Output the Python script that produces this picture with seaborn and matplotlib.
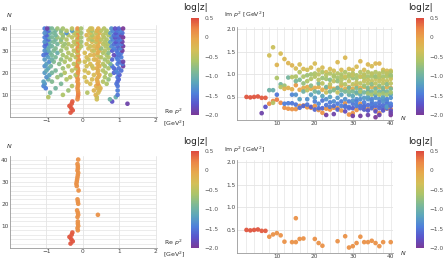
import numpy as np
import pandas as pd
import seaborn as sns
import matplotlib
matplotlib.use('Agg')
import matplotlib.pyplot as plt
import matplotlib.ticker as ticker
from matplotlib.colors import LinearSegmentedColormap, Normalize
from matplotlib.cm import ScalarMappable

# all roots, one inner list per N = 2..40
top_ns = list(range(2, 41))
top_re = [
    [-0.34], [-0.28], [-0.32], [-0.37],
    [-0.31, 1.22],
    [-0.29, 0.80],
    [-0.15, 0.38, 0.74],
    [-0.14, -0.95, 0.38, 0.90],
    [-0.13, 0.35, -0.55, 0.95],
    [-0.13, 0.42, -0.90, 0.12],
    [-0.14, 0.45, -0.40, 0.30, 0.95],
    [-0.15, 0.40, -0.75, 0.48, -1.02],
    [-0.14, 0.44, -0.30, 0.36, -1.08, 0.95],
    [-0.13, 0.41, 0.20, -1.05, -0.60, 0.92, 0.65],
    [-0.15, 0.40, 0.10, -0.85, 0.55, -1.08, 0.95],
    [-0.14, 0.38, 0.25, -0.45, -0.95, 0.70, 0.98],
    [-0.16, 0.42, 0.05, -0.70, -1.00, 0.60, 0.95, -0.35],
    [-0.15, 0.45, 0.30, -0.20, -0.92, 0.75, 1.00, -0.60],
    [-0.14, 0.40, 0.15, -0.50, -0.85, 0.62, 0.95, -1.05, 0.85],
    [-0.13, 0.42, 0.05, -0.30, -0.75, 0.55, 0.90, -1.00, 1.05],
    [-0.14, 0.38, 0.28, -0.55, -0.95, 0.70, 0.98, -0.20, 0.85],
    [-0.16, 0.45, 0.10, -0.40, -0.88, 0.60, 1.10, -1.05, 0.80, 0.25],
    [-0.15, 0.40, 0.20, -0.65, -1.00, 0.55, 0.95, -0.25, 1.08, 0.75],
    [-0.14, 0.43, 0.05, -0.50, -0.92, 0.68, 1.00, -0.10, 1.10, -0.80],
    [-0.12, 0.35, 0.30, -0.35, -0.85, 0.60, 0.95, -1.05, 0.80, -0.60, 0.15],
    [-0.15, 0.45, 0.10, -0.45, -0.95, 0.70, 0.92, -0.20, 1.05, -0.75, 0.50],
    [-0.13, 0.30, 0.20, -0.55, -1.00, 0.65, 0.98, -0.30, 0.85, -0.85, 0.40, -1.08],
    [-0.15, 0.40, 0.05, -0.40, -0.90, 0.55, 0.95, -0.15, 1.05, -0.70, 0.70, -1.00],
    [-0.14, 0.45, 0.25, -0.60, -0.95, 0.60, 0.92, -0.25, 1.08, -0.80, 0.30, -1.05, 0.80],
    [-0.15, 0.38, 0.15, -0.45, -1.00, 0.70, 0.98, -0.10, 1.02, -0.75, 0.50, -0.95, 0.85],
    [-0.13, 0.42, 0.30, -0.55, -0.90, 0.62, 0.95, -0.30, 1.10, -0.85, 0.20, -1.05, 0.78, -0.05],
    [-0.15, 0.40, 0.10, -0.40, -0.98, 0.68, 0.92, -0.20, 1.05, -0.70, 0.55, -1.02, 0.85, -0.50],
    [-0.14, 0.45, 0.25, -0.60, -0.90, 0.60, 0.98, -0.25, 1.08, -0.80, 0.35, -1.05, 0.75, -0.05, 0.90],
    [-0.15, 0.38, 0.15, -0.45, -1.00, 0.65, 0.95, -0.15, 1.02, -0.75, 0.50, -0.95, 0.82, -0.60, 0.25],
    [-0.14, 0.42, 0.30, -0.55, -0.92, 0.58, 0.98, -0.30, 1.10, -0.85, 0.20, -1.05, 0.78, -0.05, 0.88, -0.70],
    [-0.15, 0.40, 0.10, -0.40, -0.98, 0.70, 0.92, -0.20, 1.05, -0.75, 0.55, -1.00, 0.85, -0.55, 0.25],
    [-0.14, 0.45, 0.20, -0.60, -0.90, 0.62, 0.98, -0.25, 1.08, -0.80, 0.35, -1.05, 0.75, -0.05, 0.90, -0.45],
    [-0.14, 0.38, 0.15, -0.45, -1.00, 0.65, 0.95, -0.15, 1.02, -0.75, 0.50, -0.95, 0.82, -0.60, 0.25, -0.30],
    [-0.15, 0.42, 0.25, -0.55, -0.92, 0.58, 0.98, -0.30, 1.10, -0.85, 0.20, -1.05, 0.78, -0.05, 0.88, -0.70, -0.98],
]
top_im = [
    [0.50], [0.49], [0.50], [0.51],
    [0.48, 0.14],
    [0.48, 0.28],
    [0.35, 1.42, 0.65],
    [0.41, 0.37, 1.60, 0.65],
    [0.44, 1.21, 0.92, 0.55],
    [0.37, 1.46, 0.78, 0.72],
    [0.26, 1.34, 0.75, 0.68, 0.35],
    [0.24, 1.25, 0.93, 0.70, 0.36],
    [0.23, 1.20, 0.94, 0.67, 0.55, 0.36],
    [0.23, 0.76, 1.13, 0.55, 0.85, 0.33, 0.95],
    [0.30, 0.66, 1.22, 0.88, 1.05, 0.45, 0.26],
    [0.31, 0.70, 1.12, 0.95, 0.62, 0.80, 0.30],
    [0.27, 0.72, 1.10, 0.98, 0.45, 0.85, 0.33, 0.65],
    [0.26, 0.68, 1.15, 0.90, 0.55, 1.00, 0.28, 0.75],
    [0.30, 0.70, 1.24, 0.95, 0.62, 1.02, 0.40, 0.48, 0.22],
    [0.21, 0.72, 1.10, 1.00, 0.80, 0.88, 0.35, 0.60, 0.25],
    [0.15, 0.66, 1.15, 0.92, 0.52, 1.05, 0.42, 0.80, 0.25],
    [0.24, 0.70, 1.05, 0.98, 0.72, 0.90, 0.10, 0.45, 0.32, 0.60],
    [0.22, 0.72, 1.12, 0.88, 0.50, 1.02, 0.38, 0.78, 0.28, 0.62],
    [0.26, 0.68, 1.08, 0.95, 0.40, 0.98, 0.30, 0.85, 0.12, 0.65],
    [0.25, 0.70, 1.27, 1.02, 0.70, 0.92, 0.35, 0.48, 0.22, 0.85, 0.60],
    [0.20, 0.75, 1.10, 0.95, 0.55, 1.00, 0.40, 0.80, 0.30, 0.65, 0.88],
    [0.36, 0.68, 1.37, 0.92, 0.45, 1.05, 0.28, 0.78, 0.18, 0.62, 0.95, 0.30],
    [0.11, 0.72, 1.12, 1.00, 0.70, 0.95, 0.40, 0.85, 0.28, 0.55, 0.62, 0.25],
    [0.14, 0.68, 1.10, 0.92, 0.52, 1.02, 0.35, 0.78, 0.08, 0.62, 0.98, 0.42, 0.25],
    [0.21, 0.75, 1.17, 0.98, 0.45, 0.90, 0.30, 0.82, 0.32, 0.70, 0.58, 0.60, 0.40],
    [0.35, 0.70, 1.29, 0.95, 0.55, 1.05, 0.25, 0.80, 0.08, 0.65, 0.95, 0.30, 0.45, 0.62],
    [0.23, 0.72, 1.10, 1.00, 0.48, 0.92, 0.38, 0.85, 0.28, 0.60, 0.98, 0.22, 0.30, 0.75],
    [0.23, 0.68, 1.22, 0.95, 0.62, 1.05, 0.32, 0.80, 0.10, 0.70, 0.88, 0.45, 0.50, 0.58, 0.20],
    [0.26, 0.72, 1.18, 1.00, 0.40, 0.95, 0.35, 0.85, 0.30, 0.62, 1.02, 0.25, 0.45, 0.78, 0.55],
    [0.21, 0.70, 1.24, 0.95, 0.55, 1.05, 0.30, 0.80, 0.05, 0.68, 0.90, 0.35, 0.48, 0.60, 0.18, 0.95],
    [0.14, 0.72, 1.24, 1.02, 0.45, 0.92, 0.38, 0.85, 0.10, 0.62, 0.98, 0.25, 0.30, 0.75, 0.55],
    [0.23, 0.68, 1.10, 0.95, 0.62, 1.05, 0.32, 0.80, 0.26, 0.70, 0.88, 0.45, 0.50, 0.58, 0.20, 0.40],
    [0.24, 0.72, 1.08, 1.00, 0.40, 0.95, 0.35, 0.85, 0.30, 0.62, 1.02, 0.25, 0.45, 0.78, 0.55, 0.28],
    [0.23, 0.70, 1.08, 0.95, 0.55, 1.05, 0.30, 0.80, 0.10, 0.68, 0.90, 0.35, 0.48, 0.60, 0.20, 0.98, 0.15],
]
top_lz = [
    [0.45], [0.45], [0.45], [0.45],
    [0.42, -1.9],
    [0.42, -1.75],
    [0.15, -0.35, -1.0],
    [0.2, -0.55, -0.4, -1.05],
    [0.25, -0.2, -0.6, -1.5],
    [0.2, -0.3, -0.95, -0.55],
    [0.12, -0.25, -0.7, -0.2, -1.45],
    [0.1, -0.2, -0.95, -0.15, -1.45],
    [0.1, -0.2, -0.55, -0.15, -1.4, -1.5],
    [0.1, 0.05, -0.3, -1.3, -0.9, -1.5, -0.6],
    [0.1, -0.05, -0.3, -0.85, -0.55, -1.2, -1.55],
    [0.1, -0.1, -0.3, -0.6, -1.0, -0.75, -1.6],
    [0.1, -0.1, -0.35, -0.7, -1.3, -0.6, -1.5, -0.5],
    [0.1, -0.1, -0.3, -0.55, -1.2, -0.65, -1.65, -0.8],
    [0.1, -0.1, -0.3, -0.55, -0.95, -0.6, -1.45, -1.25, -1.6],
    [0.1, -0.15, -0.35, -0.5, -0.9, -0.55, -1.4, -1.1, -1.55],
    [0.1, -0.1, -0.3, -0.7, -1.15, -0.6, -1.5, -0.5, -1.6],
    [0.1, -0.1, -0.35, -0.55, -0.95, -0.65, -1.95, -1.3, -1.5, -0.4],
    [0.1, -0.1, -0.3, -0.8, -1.2, -0.55, -1.45, -0.5, -1.5, -0.9],
    [0.1, -0.15, -0.35, -0.6, -1.35, -0.6, -1.55, -0.45, -1.9, -0.85],
    [0.1, -0.1, -0.25, -0.55, -1.0, -0.65, -1.45, -1.25, -1.6, -0.75, -0.45],
    [0.05, -0.1, -0.3, -0.6, -1.2, -0.6, -1.45, -0.5, -1.45, -0.9, -0.55],
    [0.1, -0.15, -0.25, -0.65, -1.3, -0.6, -1.55, -0.55, -1.8, -0.9, -0.4, -1.5],
    [0.1, -0.1, -0.3, -0.55, -0.95, -0.6, -1.45, -0.45, -1.5, -1.05, -0.8, -1.55],
    [0.1, -0.1, -0.3, -0.7, -1.15, -0.55, -1.5, -0.5, -1.95, -0.9, -0.45, -1.3, -1.65],
    [0.1, -0.15, -0.3, -0.6, -1.3, -0.65, -1.55, -0.45, -1.4, -0.85, -0.75, -1.05, -1.45],
    [0.1, -0.1, -0.25, -0.65, -1.1, -0.55, -1.6, -0.5, -1.95, -0.95, -0.4, -1.5, -1.35, -0.6],
    [0.1, -0.15, -0.3, -0.55, -1.25, -0.6, -1.45, -0.45, -1.5, -0.95, -0.5, -1.6, -1.55, -0.7],
    [0.1, -0.1, -0.25, -0.65, -1.0, -0.55, -1.55, -0.5, -1.9, -0.9, -0.45, -1.3, -1.2, -0.7, -1.7],
    [0.1, -0.15, -0.3, -0.55, -1.35, -0.6, -1.5, -0.45, -1.45, -0.95, -0.5, -1.55, -1.4, -0.8, -0.65],
    [0.1, -0.1, -0.25, -0.65, -1.1, -0.55, -1.6, -0.5, -2.0, -0.9, -0.4, -1.45, -1.3, -0.65, -1.75, -0.7],
    [0.1, -0.15, -0.2, -0.55, -1.3, -0.6, -1.5, -0.45, -1.9, -0.95, -0.5, -1.6, -1.55, -0.75, -0.6],
    [0.1, -0.1, -0.3, -0.65, -1.0, -0.55, -1.55, -0.5, -1.55, -0.9, -0.45, -1.3, -1.2, -0.7, -1.7, -1.3],
    [0.1, -0.15, -0.3, -0.55, -1.35, -0.6, -1.5, -0.45, -1.4, -0.95, -0.5, -1.55, -1.4, -0.8, -0.65, -1.2],
    [0.1, -0.1, -0.3, -0.65, -1.1, -0.55, -1.6, -0.5, -2.0, -0.9, -0.4, -1.45, -1.3, -0.65, -1.75, -0.7, -1.9],
]

# selected roots (bottom row)
bot_n = [2, 3, 4, 5, 6, 7, 8, 9, 10, 11, 12, 14, 15, 15, 16, 17, 20, 21, 22,
         26, 28, 29, 30, 31, 32, 33, 34, 35, 36, 37, 38, 40]
bot_re = [-0.34, -0.28, -0.32, -0.37, -0.31, -0.29, -0.14, -0.15, -0.13, -0.14,
          -0.14, -0.15, -0.13, 0.41, -0.14, -0.16, -0.13, -0.14, -0.15, -0.12,
          -0.17, -0.18, -0.17, -0.16, -0.15, -0.14, -0.13, -0.15, -0.14, -0.14,
          -0.15, -0.13]
bot_im = [0.50, 0.49, 0.50, 0.51, 0.48, 0.48, 0.35, 0.40, 0.43, 0.38, 0.24,
          0.23, 0.23, 0.76, 0.30, 0.31, 0.30, 0.21, 0.15, 0.25, 0.36, 0.11,
          0.14, 0.21, 0.35, 0.23, 0.23, 0.26, 0.21, 0.14, 0.23, 0.23]
bot_lz = [0.45, 0.45, 0.45, 0.45, 0.42, 0.42] + [0.12] * 26

cbar_ticks = [0.5, 0, -0.5, -1.0, -1.5, -2.0]
cbar_labels = ['0.5', '0', '\u22120.5', '\u22121.0', '\u22121.5', '\u22122.0']

rainbow = LinearSegmentedColormap.from_list('mma_rainbow', [
    '#7A3A98', '#5A55CC', '#4F80DA', '#5CA6BC', '#7DB996',
    '#ACC46A', '#D4BF58', '#E6A94C', '#EC8646', '#DE4A3E'])
norm = Normalize(vmin=-2.0, vmax=0.5)

top = pd.DataFrame({
    'n': np.repeat(top_ns, [len(r) for r in top_re]),
    're': np.concatenate(top_re),
    'im': np.concatenate(top_im),
    'lz': np.concatenate(top_lz),
})
bot = pd.DataFrame({'n': bot_n, 're': bot_re, 'im': bot_im, 'lz': bot_lz})

sns.set_style('white')
plt.rcParams['font.family'] = ['DejaVu Sans']
W, H = 443, 265
fig = plt.figure(figsize=(W / 100, H / 100), dpi=100)


def px_axes(x0, y0, x1, y1):
    return fig.add_axes([x0 / W, 1 - y1 / H, (x1 - x0) / W, (y1 - y0) / H])


def style(ax):
    for s in ['top', 'right']:
        ax.spines[s].set_visible(False)
    for s in ['left', 'bottom']:
        ax.spines[s].set_color('#999999')
        ax.spines[s].set_linewidth(0.6)
    ax.tick_params(which='both', direction='in', color='#999999', width=0.5,
                   labelsize=4.2, labelcolor='#444444', pad=1.0)
    ax.tick_params(which='major', length=2.2)
    ax.tick_params(which='minor', length=1.2)
    ax.set_xlabel('')
    ax.set_ylabel('')
    ax.set_axisbelow(True)


def left_panel(ax, data):
    sns.scatterplot(data=data, x='re', y='n', hue='lz', palette=rainbow, hue_norm=norm,
                    s=11, linewidth=0, alpha=0.95, legend=False, ax=ax)
    ax.set_xlim(-2.0, 2.03)
    ax.set_ylim(0, 41.6)
    for v in [-1, 0, 1, 2]:
        ax.axvline(v, color='#e4e4e4', lw=0.6, zorder=0)
    for n in range(2, 41, 2):
        ax.axhline(n, color='#e4e4e4', lw=0.5, zorder=0)
    ax.set_xticks([-1, 0, 1, 2])
    ax.set_xticklabels(['\u22121', '0', '1', '2'])
    ax.set_yticks([10, 20, 30, 40])
    ax.xaxis.set_minor_locator(ticker.MultipleLocator(0.2))
    ax.yaxis.set_minor_locator(ticker.MultipleLocator(2))
    style(ax)


def right_panel(ax, data):
    sns.scatterplot(data=data, x='n', y='im', hue='lz', palette=rainbow, hue_norm=norm,
                    s=11, linewidth=0, alpha=0.95, legend=False, ax=ax)
    ax.set_xlim(-0.5, 40.6)
    ax.set_ylim(0, 2.05)
    for n in range(2, 41, 2):
        ax.axvline(n, color='#e4e4e4', lw=0.5, zorder=0)
    for v in [0.5, 1.0, 1.5, 2.0]:
        ax.axhline(v, color='#e4e4e4', lw=0.6, zorder=0)
    ax.set_xticks([10, 20, 30, 40])
    ax.set_yticks([0.5, 1.0, 1.5, 2.0])
    ax.yaxis.set_major_formatter(ticker.FormatStrFormatter('%.1f'))
    ax.xaxis.set_minor_locator(ticker.MultipleLocator(2))
    ax.yaxis.set_minor_locator(ticker.MultipleLocator(0.1))
    style(ax)


def colorbar(x0, y0, x1, y1):
    cax = px_axes(x0, y0, x1, y1)
    cb = fig.colorbar(ScalarMappable(norm=norm, cmap=rainbow), cax=cax)
    cb.outline.set_visible(False)
    cb.set_ticks(cbar_ticks)
    cb.set_ticklabels(cbar_labels)
    cax.tick_params(length=0, labelsize=4.2, labelcolor='#555555', pad=4)
    fig.text((x0 + x1) / 2 / W, 1 - (y0 - 10) / H, 'log|z|', fontsize=6.5,
             ha='center', va='center', color='#222222')


ax1 = px_axes(10, 25, 157, 117)
left_panel(ax1, top)
ax2 = px_axes(237, 27, 393, 119.5)
right_panel(ax2, top)
ax3 = px_axes(10, 156, 157, 248)
left_panel(ax3, bot)
ax4 = px_axes(237, 160, 393, 252.5)
right_panel(ax4, bot)

colorbar(191, 18, 199, 115)
colorbar(416, 18, 424, 115)
colorbar(191, 151, 199, 248)
colorbar(416, 151, 424, 248)

lab = dict(fontsize=4.5, color='#333333', va='center')
for dy in [0, 131]:
    fig.text(6 / W, 1 - (15 + dy) / H, '$N$', ha='left', **lab)
    fig.text(164 / W, 1 - (112 + dy) / H, 'Re $p^2$', ha='left', **lab)
    fig.text(163 / W, 1 - (123 + dy) / H, '[GeV$^2$]', ha='left', **lab)
for dy in [0, 135]:
    fig.text(224 / W, 1 - (15 + dy) / H, 'Im $p^2$ [GeV$^2$]', ha='left', **lab)
    fig.text(400 / W, 1 - (118 + dy) / H, '$N$', ha='left', **lab)

fig.savefig('out.png', dpi=100)
